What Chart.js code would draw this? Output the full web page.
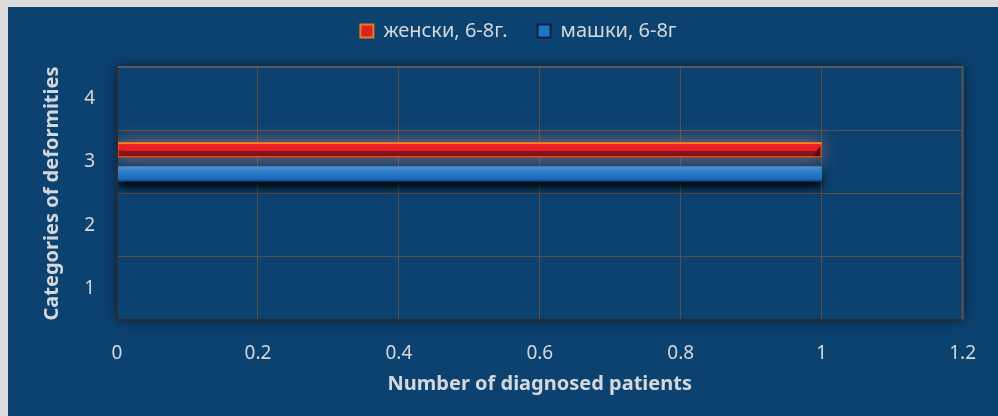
<!DOCTYPE html>
<html lang="mk">
<head>
    <meta charset="UTF-8">
    <title>Categories of deformities</title>
    <script src="https://cdn.jsdelivr.net/npm/chart.js"></script>
    <style>
        html, body {
            margin: 0;
            padding: 0;
            background-color: #dcdcdc;
        }
        .wrap {
            position: absolute;
            left: 8px;
            top: 7px;
            width: 990px;
            height: 409px;
            background-color: #0c4270;
        }
    </style>
</head>
<body>
    <div class="wrap">
        <canvas id="deformChart" width="990" height="409"></canvas>
    </div>

    <script>
        // Chart data
        const categories = ['4', '3', '2', '1'];
        const femaleValues = [0, 1, 0, 0];   // женски, 6-8г.
        const maleValues = [0, 1, 0, 0];     // машки, 6-8г
        const seriesNames = ['женски, 6-8г.', 'машки, 6-8г'];
        const xTicks = [0, 0.2, 0.4, 0.6, 0.8, 1, 1.2];

        const textColor = '#d4d8dd';
        const gridColor = '#5e4f42';
        const fontFamily = "'Noto Sans', 'DejaVu Sans', sans-serif";

        // legend box gets a fixed height so the plot starts where it should,
        // and is nudged up/right because the wide item padding also pads the top
        const legendSpacer = {
            id: 'legendSpacer',
            afterInit(chart) {
                const lg = chart.legend;
                const fit = lg.fit;
                lg.fit = function () {
                    fit.call(this);
                    this.height = 60;
                };
            },
            afterLayout(chart) {
                const lg = chart.legend;
                lg.top -= 16;
                lg.left += 28;
                lg.right += 28;
            }
        };

        // per-dataset shadow / glow plus bevel shading on the bars
        const barEffects = {
            id: 'barEffects',
            beforeDatasetDraw(chart, args) {
                const ctx = chart.ctx;
                ctx.save();
                if (args.index === 0) {
                    ctx.shadowColor = 'rgba(235, 125, 110, 0.7)';
                    ctx.shadowBlur = 18;
                } else {
                    ctx.shadowColor = 'rgba(0, 0, 0, 0.9)';
                    ctx.shadowBlur = 8;
                    ctx.shadowOffsetY = 7;
                }
            },
            afterDatasetDraw(chart, args) {
                const ctx = chart.ctx;
                ctx.restore();
                const meta = chart.getDatasetMeta(args.index);
                meta.data.forEach((el, i) => {
                    const v = chart.data.datasets[args.index].data[i];
                    if (!v) return;
                    const top = el.y - el.height / 2;
                    const h = el.height;
                    const left = Math.min(el.x, el.base);
                    const w = Math.abs(el.x - el.base);
                    ctx.save();
                    const g = ctx.createLinearGradient(0, top, 0, top + h);
                    if (args.index === 0) {
                        g.addColorStop(0, '#f59a26');
                        g.addColorStop(0.1, '#f59a26');
                        g.addColorStop(0.14, '#ef2228');
                        g.addColorStop(0.55, '#e81d25');
                        g.addColorStop(0.6, '#8e1517');
                        g.addColorStop(1, '#741012');
                    } else {
                        g.addColorStop(0, '#4a94d8');
                        g.addColorStop(0.35, '#2a7fcf');
                        g.addColorStop(0.85, '#1a6bbd');
                        g.addColorStop(1, '#0e3f78');
                    }
                    ctx.fillStyle = g;
                    ctx.fillRect(left, top, w, h);
                    if (args.index === 0) {
                        // bevel at both ends
                        ctx.fillStyle = '#8e1517';
                        ctx.beginPath();
                        ctx.moveTo(left, top + h);
                        ctx.lineTo(left + 7, top + h * 0.55);
                        ctx.lineTo(left, top + h * 0.55);
                        ctx.closePath();
                        ctx.fill();
                        ctx.fillStyle = '#5a0c0c';
                        ctx.beginPath();
                        ctx.moveTo(left + w, top + 2);
                        ctx.lineTo(left + w, top + h);
                        ctx.lineTo(left + w - 10, top + h);
                        ctx.closePath();
                        ctx.fill();
                        ctx.strokeStyle = '#e2782a';
                        ctx.lineWidth = 1;
                        ctx.strokeRect(left + 0.5, top + 0.5, w - 1, h - 1);
                    }
                    ctx.restore();
                });
            }
        };

        // shaded frame around the plot area: dark left/bottom, grey top/right
        const plotFrame = {
            id: 'plotFrame',
            beforeDraw(chart) {
                const { ctx, chartArea: a } = chart;
                ctx.save();
                ctx.shadowColor = 'rgba(0, 0, 0, 0.55)';
                ctx.shadowBlur = 14;
                ctx.fillStyle = '#0c4270';
                ctx.fillRect(a.left, a.top, a.right - a.left, a.bottom - a.top);
                ctx.restore();
            },
            afterDraw(chart) {
                const { ctx, chartArea: a } = chart;
                ctx.save();
                ctx.lineWidth = 2;
                ctx.strokeStyle = '#5c5752';
                ctx.beginPath();
                ctx.moveTo(a.left, a.top);
                ctx.lineTo(a.right, a.top);
                ctx.lineTo(a.right, a.bottom);
                ctx.stroke();
                ctx.strokeStyle = '#2c2c30';
                ctx.beginPath();
                ctx.moveTo(a.left, a.top);
                ctx.lineTo(a.left, a.bottom);
                ctx.lineTo(a.right, a.bottom);
                ctx.stroke();
                ctx.restore();
            }
        };

        new Chart(document.getElementById('deformChart'), {
            type: 'bar',
            data: {
                labels: categories,
                datasets: [{
                    label: seriesNames[0],
                    data: femaleValues,
                    backgroundColor: '#e81d25',
                    borderWidth: 0,
                    categoryPercentage: 0.76,
                    barPercentage: 0.62
                }, {
                    label: seriesNames[1],
                    data: maleValues,
                    backgroundColor: '#1f74c6',
                    borderWidth: 0,
                    categoryPercentage: 0.76,
                    barPercentage: 0.62
                }]
            },
            options: {
                indexAxis: 'y',
                responsive: false,
                animation: false,
                layout: {
                    autoPadding: false,
                    padding: { left: 0, right: 25, top: 0, bottom: 0 }
                },
                plugins: {
                    legend: {
                        position: 'top',
                        labels: {
                            color: textColor,
                            font: { family: fontFamily, size: 20 },
                            boxWidth: 13,
                            boxHeight: 13,
                            padding: 30,
                            generateLabels(chart) {
                                return [
                                    { text: seriesNames[0], fillStyle: '#d8231f', strokeStyle: '#e8792a', lineWidth: 2, fontColor: textColor, datasetIndex: 0 },
                                    { text: seriesNames[1], fillStyle: '#1f74c6', strokeStyle: '#0a2148', lineWidth: 2, fontColor: textColor, datasetIndex: 1 }
                                ];
                            }
                        }
                    },
                    tooltip: { enabled: false }
                },
                scales: {
                    x: {
                        min: 0,
                        max: 1.2,
                        afterBuildTicks(scale) {
                            scale.ticks = xTicks.map(v => ({ value: v }));
                        },
                        grid: { color: gridColor, drawTicks: false },
                        border: { display: false },
                        ticks: {
                            color: textColor,
                            font: { family: fontFamily, size: 19 },
                            padding: 22,
                            callback: v => String(v)
                        },
                        title: {
                            display: true,
                            text: 'Number of diagnosed patients',
                            color: textColor,
                            font: { family: fontFamily, size: 20, weight: 'bold' },
                            padding: { top: 8, bottom: 20 }
                        },
                        afterFit(scale) {
                            scale.height = 96;
                        }
                    },
                    y: {
                        grid: { color: gridColor, drawTicks: false, offset: true },
                        border: { display: false },
                        ticks: {
                            color: textColor,
                            font: { family: fontFamily, size: 19 },
                            padding: 22
                        },
                        title: {
                            display: true,
                            text: 'Categories of deformities',
                            color: textColor,
                            font: { family: fontFamily, size: 20, weight: 'bold' },
                            padding: { top: 32, bottom: 0 }
                        },
                        afterFit(scale) {
                            scale.width = 109;
                        }
                    }
                }
            },
            plugins: [legendSpacer, plotFrame, barEffects]
        });
    </script>
</body>
</html>
